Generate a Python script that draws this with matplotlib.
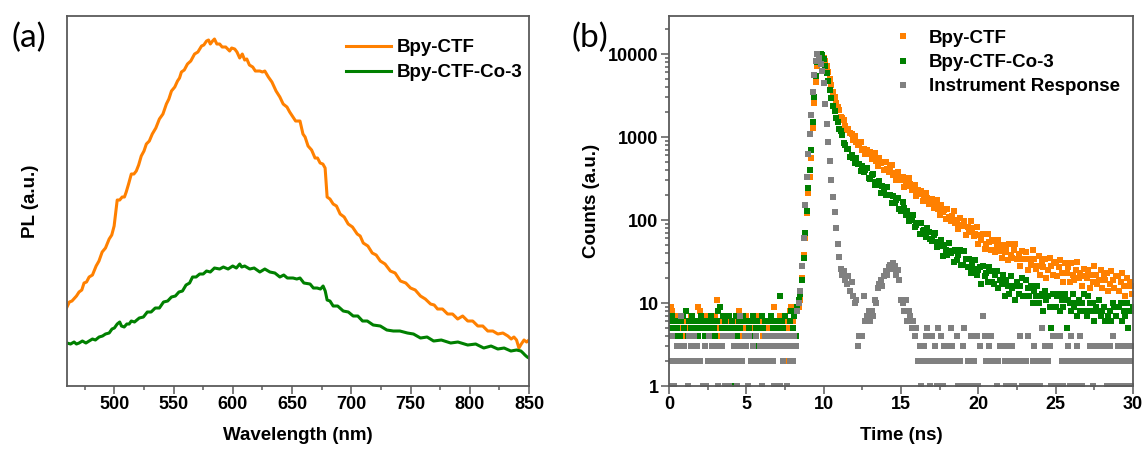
"""
PL spectra (a) and time-resolved PL decays (b) of Bpy-CTF and Bpy-CTF-Co-3.
"""
import numpy as np
import matplotlib
matplotlib.use("Agg")
import matplotlib.pyplot as plt
from matplotlib.ticker import MultipleLocator, LogLocator, FuncFormatter, NullFormatter

#############################################################################
# (a) steady-state PL, intensity in arbitrary units
ctf_wl = [460.0, 462.0, 464.2, 466.5, 468.0, 470.2, 472.5, 474.4, 476.5, 478.7,
          481.5, 484.6, 487.0, 489.7, 492.5, 495.6, 497.8, 499.8, 501.0, 502.4,
          504.5, 506.6, 508.5, 510.0, 512.0, 514.3, 516.5, 518.5, 520.5, 522.7,
          525.0, 527.0, 529.5, 532.0, 535.0, 538.0, 541.0, 543.9, 546.0, 548.2,
          551.0, 553.3, 555.0, 556.6, 559.0, 561.7, 564.5, 567.7, 570.5, 573.6,
          575.5, 577.8, 579.5, 581.0, 582.9, 584.5, 586.5, 588.9, 591.0, 594.0,
          597.3, 599.0, 601.6, 603.5, 605.8, 608.0, 610.0, 611.8, 614.0, 616.8,
          619.0, 622.8, 625.0, 627.0, 630.0, 633.0, 636.5, 639.7, 642.5, 645.7,
          648.0, 650.8, 653.0, 656.7, 659.2, 661.0, 663.5, 666.5, 669.4, 671.5,
          673.7, 676.0, 677.9, 679.0, 679.6, 682.0, 684.7, 687.5, 690.6, 694.0,
          697.4, 701.0, 705.0, 707.5, 710.1, 714.0, 717.7, 721.0, 724.5, 728.5,
          733.0, 737.0, 741.5, 746.0, 750.0, 754.0, 758.4, 762.5, 766.9, 770.0,
          772.8, 777.0, 781.3, 785.5, 789.8, 794.0, 798.3, 802.5, 806.8, 811.0,
          815.2, 819.5, 823.7, 828.0, 832.2, 835.0, 837.3, 839.5, 841.5, 843.5,
          845.8, 848.0, 850.0]
ctf_pl = [79, 84, 85, 88, 90, 94, 96, 103, 104, 109,
          111, 120, 125, 134, 138, 147, 151, 160, 172, 186,
          186, 189, 189, 194, 202, 212, 212, 215, 221, 230,
          235, 242, 245, 252, 258, 267, 272, 282, 287, 295,
          299, 305, 308, 314, 316, 322, 325, 332, 334, 340,
          341, 345, 346, 342, 345, 347, 342, 342, 339, 339,
          335, 338, 337, 334, 328, 332, 326, 327, 321, 319,
          315, 315, 314, 315, 309, 304, 295, 289, 282, 279,
          274, 269, 265, 265, 252, 249, 240, 236, 228, 228,
          223, 222, 218, 200, 189, 187, 182, 180, 172, 169,
          162, 159, 152, 150, 143, 140, 133, 131, 125, 122,
          115, 113, 105, 103, 98, 96, 90, 87, 82, 81,
          77, 77, 72, 72, 67, 70, 65, 65, 60, 60,
          55, 55, 52, 53, 50, 47, 49, 46, 38, 42,
          46, 44, 46]

co_wl = [460.0, 463.0, 466.0, 468.0, 470.2, 473.0, 476.0, 478.7, 481.5, 484.0,
         487.1, 490.0, 492.5, 495.6, 498.0, 500.0, 502.4, 504.5, 506.0, 508.3,
         510.5, 512.5, 514.3, 517.0, 521.0, 524.5, 527.8, 531.0, 534.5, 538.0,
         541.5, 545.0, 548.2, 551.5, 554.5, 557.5, 560.5, 563.5, 566.0, 569.0,
         572.0, 575.0, 577.8, 581.0, 584.5, 588.9, 592.0, 596.0, 599.9, 603.0,
         605.8, 607.5, 610.0, 614.3, 618.0, 622.8, 627.0, 631.3, 635.5, 639.7,
         643.0, 646.0, 650.8, 654.0, 656.7, 660.0, 665.2, 668.0, 671.1, 674.0,
         676.2, 678.0, 679.6, 682.0, 684.7, 688.5, 693.2, 697.5, 701.6, 705.5,
         709.5, 713.5, 718.5, 724.5, 730.0, 735.5, 741.0, 747.4, 752.5, 758.4,
         764.0, 769.5, 776.0, 783.9, 790.0, 798.3, 805.0, 811.8, 818.0, 823.7,
         829.0, 834.7, 839.5, 843.2, 845.0, 846.6, 848.5, 850.0]
co_pl = [43, 42, 44, 42, 43, 45, 43, 45, 47, 46,
         49, 50, 52, 53, 57, 58, 62, 64, 60, 59,
         62, 62, 65, 64, 68, 69, 74, 74, 78, 78,
         84, 85, 89, 90, 94, 95, 101, 103, 109, 109,
         112, 112, 115, 114, 118, 117, 119, 117, 120, 118,
         122, 119, 120, 117, 118, 114, 117, 114, 113, 109,
         111, 108, 108, 107, 108, 103, 102, 98, 98, 97,
         100, 95, 86, 85, 80, 80, 75, 74, 70, 70,
         65, 65, 61, 60, 56, 55, 55, 53, 52, 48,
         49, 45, 46, 43, 44, 41, 42, 38, 40, 37,
         38, 35, 36, 35, 33, 31, 29, 28]

# (b) TRPL counts, one value per 0.1 ns channel starting at 0 ns (0 = empty channel)
channel_ns = 0.1
ctf_counts = [
    # 0.0 - 8.3 ns background
    0, 9, 8, 5, 4, 7, 5, 6, 5, 4,
    5, 6, 4, 5, 7, 5, 4, 5, 6, 9,
    8, 5, 6, 4, 7, 5, 5, 4, 6, 5,
    7, 11, 5, 4, 6, 5, 7, 4, 5, 6,
    5, 4, 5, 7, 6, 8, 5, 4, 5, 6,
    7, 5, 4, 5, 6, 5, 4, 7, 5, 6,
    5, 4, 6, 5, 5, 4, 7, 5, 9, 6,
    4, 5, 7, 6, 5, 2, 6, 5, 8, 9,
    6, 7, 9, 8,
    # 8.4 - 9.8 ns rise
    9, 11, 20, 38, 60, 120, 210, 330, 560, 1300, 2600, 4600, 7200, 9100, 10000,
    # 9.9 - 10.9 ns
    9800, 9000, 8200, 7150, 6100, 4950, 4200, 3500, 3050, 2540, 2310,
    # 11.0 - 29.9 ns
    2122, 1748, 1677, 1623, 1346, 1200, 1260, 1109, 1076, 931,
    1017, 864, 800, 837, 877, 704, 723, 619, 704, 625,
    666, 536, 587, 639, 510, 452, 558, 480, 497, 402,
    505, 414, 379, 419, 459, 353, 371, 302, 374, 321,
    307, 334, 252, 290, 259, 317, 269, 228, 231, 262,
    197, 228, 206, 223, 169, 181, 213, 183, 156, 180,
    178, 138, 156, 173, 134, 115, 150, 126, 133, 104,
    137, 108, 98, 113, 129, 93, 100, 78, 105, 88,
    85, 98, 66, 83, 72, 98, 80, 64, 67, 82,
    52, 66, 58, 67, 45, 52, 67, 55, 44, 57,
    56, 41, 49, 58, 42, 35, 50, 41, 45, 33,
    51, 38, 35, 43, 51, 34, 39, 28, 42, 34,
    34, 41, 25, 34, 29, 43, 34, 26, 28, 37,
    22, 31, 27, 34, 20, 25, 35, 28, 22, 31,
    30, 21, 27, 33, 23, 18, 30, 23, 27, 18,
    30, 22, 19, 25, 31, 20, 23, 16, 26, 21,
    20, 25, 15, 22, 18, 28, 22, 17, 19, 25,
    15, 22, 19, 23, 14, 17, 24, 19, 15, 21,
    21, 14, 18, 23, 16, 12, 20, 16, 18, 13,
    16]

co_counts = [
    # 0.0 - 8.3 ns background
    6, 5, 7, 4, 6, 5, 3, 4, 6, 7,
    5, 8, 4, 6, 5, 7, 3, 6, 5, 4,
    6, 7, 5, 4, 6, 2, 5, 7, 6, 5,
    4, 6, 8, 9, 5, 7, 6, 4, 5, 7,
    1, 6, 5, 7, 4, 6, 5, 3, 7, 6,
    6, 4, 5, 6, 7, 4, 5, 6, 3, 5,
    7, 5, 6, 4, 2, 6, 7, 5, 4, 6,
    5, 4, 12, 6, 5, 7, 3, 4, 6, 8,
    5, 7, 4, 9,
    # 8.4 - 9.8 ns rise
    11, 13, 19, 35, 70, 130, 240, 400, 700, 1500, 3000, 5500, 8000, 9500, 10000,
    # 9.9 - 10.9 ns
    9700, 8800, 7200, 5950, 4720, 3680, 2980, 2380, 2070, 1710, 1500,
    # 11.0 - 29.9 ns
    1245, 1180, 1070, 842, 798, 710, 717, 580, 604, 559,
    483, 565, 468, 468, 392, 450, 379, 398, 418, 325,
    315, 348, 356, 266, 290, 264, 296, 213, 255, 231,
    202, 248, 198, 201, 162, 196, 160, 172, 184, 136,
    129, 163, 138, 115, 130, 96, 111, 99, 115, 83,
    88, 91, 67, 92, 73, 75, 62, 81, 72, 59,
    56, 66, 69, 47, 55, 49, 58, 37, 50, 44,
    38, 53, 40, 42, 31, 44, 33, 38, 44, 29,
    29, 42, 34, 27, 34, 23, 29, 26, 33, 22,
    25, 27, 17, 28, 21, 23, 18, 27, 24, 18,
    17, 22, 24, 15, 19, 17, 22, 12, 19, 16,
    13, 21, 15, 16, 11, 18, 13, 16, 20, 12,
    12, 19, 15, 12, 16, 10, 14, 12, 16, 10,
    12, 13, 8, 14, 11, 12, 9, 5, 13, 9,
    9, 12, 13, 8, 11, 9, 13, 5, 11, 10,
    8, 13, 9, 10, 7, 11, 8, 10, 13, 8,
    7, 12, 10, 8, 10, 6, 9, 8, 11, 7,
    8, 9, 6, 3, 7, 8, 6, 10, 9, 7,
    2, 9, 10, 6, 8, 7, 10, 5, 8, 8,
    9]

irf_counts = [
    # 0.0 - 8.3 ns background
    1, 2, 4, 1, 2, 3, 2, 3, 7, 2,
    3, 2, 1, 4, 3, 2, 4, 2, 3, 2,
    2, 0, 1, 3, 1, 2, 4, 2, 3, 3,
    2, 3, 1, 2, 3, 4, 1, 2, 4, 1,
    2, 4, 3, 2, 1, 3, 7, 2, 3, 4,
    3, 1, 4, 2, 3, 2, 4, 0, 2, 3,
    1, 2, 4, 3, 2, 3, 4, 2, 1, 3,
    4, 3, 1, 4, 2, 3, 1, 4, 2, 3,
    2, 4, 3, 8,
    # 8.4 - 9.5 ns rise
    10, 14, 28, 60, 150, 330, 620, 1100, 1850, 3500, 5600, 8200,
    # 9.6 - 16.1 ns
    9900, 9000, 7600, 6200,
    4500, 2500, 1450, 860, 520, 300, 190, 125, 80, 52,
    36, 26, 22, 24, 19, 17, 21, 14, 18, 12,
    10, 11, 3, 4, 0, 4, 12, 6, 7, 8,
    6, 8, 7, 11, 10, 15, 17, 19, 16, 21,
    24, 22, 27, 29, 26, 30, 28, 22, 25, 19,
    11, 10, 8, 11, 6, 8, 7, 5, 6, 4,
    5, 2,
    # 16.2 - 30.0 ns background
    3, 1, 2, 3, 4, 5, 2, 1,
    4, 2, 3, 1, 5, 2, 4, 1, 3, 2,
    3, 2, 5, 3, 2, 0, 4, 1, 2, 1,
    3, 5, 1, 2, 0, 4, 1, 2, 0, 4,
    1, 3, 0, 7, 4, 2, 0, 3, 4, 2,
    0, 2, 1, 2, 3, 0, 3, 2, 1, 3,
    1, 2, 3, 1, 2, 0, 2, 4, 1, 2,
    1, 2, 4, 0, 1, 2, 3, 1, 2, 0,
    1, 5, 2, 3, 0, 2, 3, 1, 4, 1,
    4, 0, 1, 4, 2, 1, 0, 2, 3, 1,
    4, 2, 0, 1, 3, 2, 4, 1, 2, 0,
    2, 0, 3, 2, 1, 3, 2, 0, 3, 2,
    2, 3, 0, 1, 2, 3, 1, 4, 2, 1,
    3, 2, 1, 3, 0, 2, 1, 3, 2, 1,
    3]

ORANGE = "#ff8000"
GREEN = "#008000"
GRAY = "#808080"
SPINE = "#5a5a5a"
#############################################################################


def style_axes(ax):
    for s in ax.spines.values():
        s.set_color(SPINE)
        s.set_linewidth(1.3)
    ax.tick_params(which="both", direction="out", color=SPINE, width=1.1,
                   labelsize=13, top=False, right=False)
    ax.tick_params(which="major", length=5.5, pad=2)
    ax.tick_params(which="minor", length=3)


def decay(ax, counts, color, label):
    c = np.array(counts, dtype=float)
    t = np.arange(len(c)) * channel_ns
    keep = c > 0
    ax.plot(t[keep], c[keep], "s", ms=3.9, mew=0, color=color, label=label)


def main():
    plt.rcParams["font.family"] = ["Liberation Sans", "DejaVu Sans"]
    plt.rcParams["font.weight"] = "bold"
    fig = plt.figure(figsize=(11.43, 4.51), dpi=100)

    # ---- (a) ----
    ax1 = fig.add_axes([0.0586, 0.1441, 0.4042, 0.8204])
    ax1.plot(ctf_wl, ctf_pl, color=ORANGE, lw=2.2, label="Bpy-CTF")
    ax1.plot(co_wl, co_pl, color=GREEN, lw=2.2, label="Bpy-CTF-Co-3")
    ax1.set_xlim(460, 850)
    ax1.set_ylim(0, 370)
    ax1.xaxis.set_major_locator(MultipleLocator(50))
    ax1.xaxis.set_minor_locator(MultipleLocator(25))
    ax1.set_yticks([])
    style_axes(ax1)
    ax1.set_xlabel("Wavelength (nm)", fontsize=13.5, fontweight="bold", va="top")
    ax1.xaxis.set_label_coords(0.5, -0.112)
    ax1.set_ylabel("PL (a.u.)", fontsize=13.5, fontweight="bold")
    ax1.yaxis.set_label_coords(-0.06, 0.5)
    ax1.legend(loc="upper left", bbox_to_anchor=(0.603, 0.937), frameon=False,
               prop={"weight": "bold", "size": 13.5}, handlelength=2.4,
               handletextpad=0.35, labelspacing=0.42, borderpad=0, borderaxespad=0)

    # ---- (b) ----
    ax2 = fig.add_axes([0.5853, 0.1441, 0.4060, 0.8204])
    decay(ax2, ctf_counts, ORANGE, "Bpy-CTF")
    decay(ax2, co_counts, GREEN, "Bpy-CTF-Co-3")
    decay(ax2, irf_counts, GRAY, "Instrument Response")
    ax2.set_yscale("log")
    ax2.set_xlim(0, 30)
    ax2.set_ylim(1, 28700)
    ax2.xaxis.set_major_locator(MultipleLocator(5))
    ax2.xaxis.set_minor_locator(MultipleLocator(2.5))
    ax2.yaxis.set_major_locator(LogLocator(base=10))
    ax2.yaxis.set_minor_locator(LogLocator(base=10, subs=np.arange(2, 10)))
    ax2.yaxis.set_major_formatter(FuncFormatter(lambda v, p: "%d" % round(v)))
    ax2.yaxis.set_minor_formatter(NullFormatter())
    style_axes(ax2)
    ax2.set_xlabel("Time (ns)", fontsize=13.5, fontweight="bold", va="top")
    ax2.xaxis.set_label_coords(0.5, -0.112)
    ax2.set_ylabel("Counts (a.u.)", fontsize=13.5, fontweight="bold")
    ax2.yaxis.set_label_coords(-0.149, 0.5)
    ax2.legend(loc="upper left", bbox_to_anchor=(0.475, 0.963), frameon=False,
               prop={"weight": "bold", "size": 13.5}, handlelength=1.5,
               handletextpad=0.6, labelspacing=0.38, borderpad=0, borderaxespad=0,
               numpoints=1, markerscale=1.1)

    fig.text(0.025, 0.917, "(a)", fontsize=24, fontweight="normal",
             family=["Lato", "DejaVu Sans"], ha="center", va="center")
    fig.text(0.516, 0.917, "(b)", fontsize=24, fontweight="normal",
             family=["Lato", "DejaVu Sans"], ha="center", va="center")

    fig.savefig("out.png", dpi=100)


if __name__ == "__main__":
    main()
